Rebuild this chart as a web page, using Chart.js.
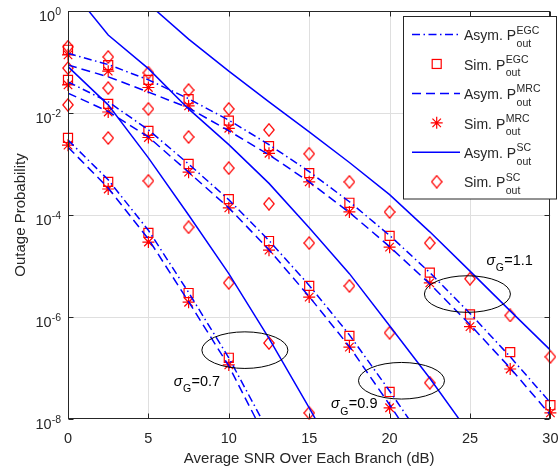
<!DOCTYPE html>
<html>
<head>
<meta charset="utf-8">
<script src="https://cdn.jsdelivr.net/npm/chart.js@4.4.0/dist/chart.umd.min.js"></script>
<style>
  html, body { margin: 0; padding: 0; background: #fff; }
</style>
</head>
<body>
<canvas id="myChart" width="558" height="467"></canvas>
<script>
// SNR axis (dB)
var snr = [0, 2.5, 5, 7.5, 10, 12.5, 15, 17.5, 20, 22.5, 25, 27.5, 30];

// all values are log10(outage probability), one per snr step (null = not drawn)
// sigma_G = 0.7
var asymEGC07 = [-2.53, -3.31, -4.30, -5.52, -6.80, -8.27];
var asymMRC07 = [-2.67, -3.47, -4.47, -5.70, -6.96, -8.50];
var asymSC07 = [-1.09, -1.84, -2.88, -4.00, -5.15, -6.42, -7.78, -9.20];
var simEGC07 = [-2.49, -3.35, -4.35, -5.53, -6.80];
var simMRC07 = [-2.63, -3.49, -4.53, -5.71, -6.94];
var simSC07 = [-1.84, -2.49, -3.33, -4.24, -5.33, -6.51, -7.88];

// sigma_G = 0.9
var asymEGC09 = [-1.39, -1.78, -2.33, -3.00, -3.70, -4.50, -5.38, -6.35, -7.45, -8.60];
var asymMRC09 = [-1.61, -1.97, -2.47, -3.16, -3.86, -4.68, -5.60, -6.58, -7.72, -8.90];
var asymSC09 = [0.50, -0.47, -1.13, -1.92, -2.62, -3.38, -4.25, -5.15, -6.17, -7.20, -8.30];
var simEGC09 = [-1.35, -1.82, -2.35, -3.00, -3.69, -4.51, -5.39, -6.37, -7.47];
var simMRC09 = [-1.45, -1.98, -2.48, -3.16, -3.86, -4.69, -5.61, -6.59, -7.78];
var simSC09 = [-1.12, -1.51, -1.92, -2.47, -3.08, -3.78, -4.55, -5.39, -6.31, -7.29];

// sigma_G = 1.1
var asymEGC11 = [-0.83, -1.05, -1.35, -1.72, -2.14, -2.62, -3.15, -3.74, -4.40, -5.13, -5.93, -6.78, -7.68];
var asymMRC11 = [-1.06, -1.29, -1.59, -1.90, -2.35, -2.82, -3.35, -3.95, -4.62, -5.35, -6.15, -7.00, -7.92];
var asymSC11 = [null, 0.85, 0.14, -0.55, -1.18, -1.78, -2.37, -2.97, -3.60, -4.33, -5.10, -5.88, -6.65];
var simEGC11 = [-0.76, -1.06, -1.35, -1.73, -2.15, -2.65, -3.18, -3.76, -4.41, -5.13, -5.95, -6.69, -7.73];
var simMRC11 = [-0.86, -1.18, -1.50, -1.86, -2.30, -2.79, -3.35, -3.94, -4.63, -5.33, -6.19, -7.02, -7.88];
var simSC11 = [-0.70, -0.90, -1.21, -1.55, -1.92, -2.33, -2.80, -3.35, -3.94, -4.55, -5.25, -5.97, -6.78];

// axis ticks
var xTicks = [0, 5, 10, 15, 20, 25, 30];
var yTickExp = [-8, -6, -4, -2, 0];

// sigma labels + ellipses: [snr, log10 P]
var sigmaLabels = [
  { text: '0.7', at: [6.57, -7.35] },
  { text: '0.9', at: [16.35, -7.79] },
  { text: '1.1', at: [26.02, -4.98] }
];
var ellipses = [[11.0, -6.65], [20.74, -7.25], [24.84, -5.55]];

var legendRows = [
  ['Asym. P', 'EGC', 'dashdot'],
  ['Sim. P', 'EGC', 'square'],
  ['Asym. P', 'MRC', 'dashed'],
  ['Sim. P', 'MRC', 'star'],
  ['Asym. P', 'SC', 'solid'],
  ['Sim. P', 'SC', 'diamond']
];

var BLUE = '#0000ff';
var RED = '#ff0000';
var INK = '#262626';
var FONT = '"Liberation Sans", Arial, Helvetica, sans-serif';
var DASHDOT = [8, 3.5, 1.5, 3.5];
var DASHED = [9, 5];

function pts(vals) {
  var out = [];
  for (var i = 0; i < vals.length; i++) {
    if (vals[i] === null) continue;
    out.push({ x: snr[i], y: Math.pow(10, vals[i]) });
  }
  return out;
}

// diamond marker (a bit taller than wide, like matlab)
var diamond = document.createElement('canvas');
diamond.width = 12;
diamond.height = 14;
(function () {
  var c = diamond.getContext('2d');
  c.strokeStyle = RED;
  c.lineWidth = 1.2;
  c.beginPath();
  c.moveTo(6, 0.8);
  c.lineTo(11.2, 7);
  c.lineTo(6, 13.2);
  c.lineTo(0.8, 7);
  c.closePath();
  c.stroke();
})();

function asymLine(vals, dash) {
  return {
    data: pts(vals), showLine: true, pointRadius: 0, borderColor: BLUE,
    borderWidth: 1.5, borderDash: dash, fill: false, tension: 0
  };
}
function simPts(vals, style) {
  var d = {
    data: pts(vals), showLine: false, pointStyle: style, borderColor: RED,
    backgroundColor: 'rgba(0,0,0,0)', pointBorderWidth: 1.2, clip: false
  };
  d.pointRadius = style === 'rect' ? 6.4 : 6;
  return d;
}

var datasets = [
  asymLine(asymEGC07, DASHDOT), asymLine(asymMRC07, DASHED), asymLine(asymSC07, []),
  asymLine(asymEGC09, DASHDOT), asymLine(asymMRC09, DASHED), asymLine(asymSC09, []),
  asymLine(asymEGC11, DASHDOT), asymLine(asymMRC11, DASHED), asymLine(asymSC11, []),
  simPts(simSC07, diamond), simPts(simSC09, diamond), simPts(simSC11, diamond),
  simPts(simEGC07, 'rect'), simPts(simEGC09, 'rect'), simPts(simEGC11, 'rect'),
  simPts(simMRC07, 'star'), simPts(simMRC09, 'star'), simPts(simMRC11, 'star')
];

function px(chart, xv, lv) {
  return [chart.scales.x.getPixelForValue(xv), chart.scales.y.getPixelForValue(Math.pow(10, lv))];
}

function drawMarker(ctx, kind, x, y) {
  ctx.save();
  ctx.strokeStyle = RED;
  ctx.lineWidth = 1.2;
  ctx.setLineDash([]);
  if (kind === 'square') {
    ctx.strokeRect(x - 4.5, y - 4.5, 9, 9);
  } else if (kind === 'star') {
    ctx.beginPath();
    for (var a = 0; a < 4; a++) {
      var r = a * Math.PI / 4;
      ctx.moveTo(x - 6 * Math.cos(r), y - 6 * Math.sin(r));
      ctx.lineTo(x + 6 * Math.cos(r), y + 6 * Math.sin(r));
    }
    ctx.stroke();
  } else if (kind === 'diamond') {
    ctx.drawImage(diamond, x - 6, y - 7);
  }
  ctx.restore();
}

var matlabAxes = {
  id: 'matlabAxes',
  beforeDatasetsDraw: function (chart) {
    var ctx = chart.ctx, a = chart.chartArea;
    ctx.save();
    ctx.strokeStyle = '#dfdfdf';
    ctx.lineWidth = 1;
    ctx.beginPath();
    xTicks.forEach(function (t) {
      if (t === 0 || t === 30) return;
      var x = Math.round(chart.scales.x.getPixelForValue(t)) + 0.5;
      ctx.moveTo(x, a.top);
      ctx.lineTo(x, a.bottom);
    });
    yTickExp.forEach(function (e) {
      if (e === -8 || e === 0) return;
      var y = Math.round(chart.scales.y.getPixelForValue(Math.pow(10, e))) + 0.5;
      ctx.moveTo(a.left, y);
      ctx.lineTo(a.right, y);
    });
    ctx.stroke();
    ctx.restore();
  },
  afterDraw: function (chart) {
    var ctx = chart.ctx, a = chart.chartArea;
    var L = Math.round(a.left) + 0.5, R = Math.round(a.right) - 0.5;
    var T = Math.round(a.top) + 0.5, B = Math.round(a.bottom) - 0.5;
    ctx.save();

    // box + inward ticks
    ctx.strokeStyle = INK;
    ctx.lineWidth = 1;
    ctx.setLineDash([]);
    ctx.strokeRect(L, T, R - L, B - T);
    ctx.beginPath();
    xTicks.forEach(function (t) {
      var x = Math.round(chart.scales.x.getPixelForValue(t)) + 0.5;
      ctx.moveTo(x, B); ctx.lineTo(x, B - 5);
      ctx.moveTo(x, T); ctx.lineTo(x, T + 5);
    });
    yTickExp.forEach(function (e) {
      var y = Math.round(chart.scales.y.getPixelForValue(Math.pow(10, e))) + 0.5;
      ctx.moveTo(L, y); ctx.lineTo(L + 5, y);
      ctx.moveTo(R, y); ctx.lineTo(R - 5, y);
    });
    ctx.stroke();

    // tick labels
    ctx.fillStyle = INK;
    ctx.textBaseline = 'alphabetic';
    ctx.font = '14.5px ' + FONT;
    ctx.textAlign = 'center';
    xTicks.forEach(function (t) {
      ctx.fillText(String(t), chart.scales.x.getPixelForValue(t), a.bottom + 24);
    });
    ctx.textAlign = 'left';
    yTickExp.forEach(function (e) {
      var y = chart.scales.y.getPixelForValue(Math.pow(10, e));
      ctx.font = '10.5px ' + FONT;
      var sup = String(e);
      var ws = ctx.measureText(sup).width;
      ctx.font = '14.5px ' + FONT;
      var wb = ctx.measureText('10').width;
      var xr = a.left - 7;
      ctx.fillText('10', xr - ws - wb, y + 9.7);
      ctx.font = '10.5px ' + FONT;
      ctx.fillText(sup, xr - ws, y + 3.8);
    });

    // axis titles
    ctx.font = '15px ' + FONT;
    ctx.textAlign = 'center';
    ctx.fillText('Average SNR Over Each Branch (dB)', (a.left + a.right) / 2, a.bottom + 44);
    ctx.save();
    ctx.translate(25, (a.top + a.bottom) / 2);
    ctx.rotate(-Math.PI / 2);
    ctx.fillText('Outage Probability', 0, 0);
    ctx.restore();

    // ellipses
    ctx.strokeStyle = '#000';
    ctx.lineWidth = 1;
    ellipses.forEach(function (c) {
      var p = px(chart, c[0], c[1]);
      ctx.beginPath();
      ctx.ellipse(p[0], p[1], 43, 18.3, 0, 0, 2 * Math.PI);
      ctx.stroke();
    });

    // sigma_G labels
    ctx.fillStyle = '#000';
    ctx.textAlign = 'left';
    sigmaLabels.forEach(function (s) {
      var p = px(chart, s.at[0], s.at[1]);
      var x = p[0];
      ctx.font = 'italic 14.5px ' + FONT;
      ctx.fillText('\u03c3', x, p[1]);
      x += ctx.measureText('\u03c3').width + 0.5;
      ctx.font = '10.5px ' + FONT;
      ctx.fillText('G', x, p[1] + 6.5);
      x += ctx.measureText('G').width + 0.5;
      ctx.font = '14.5px ' + FONT;
      ctx.fillText('=' + s.text, x, p[1]);
    });

    // legend
    var lx = 403.5, ly = 16.5, lw = 153, lh = 182.5;
    ctx.fillStyle = '#fff';
    ctx.fillRect(lx, ly, lw, lh);
    ctx.strokeStyle = INK;
    ctx.strokeRect(lx, ly, lw, lh);
    legendRows.forEach(function (row, i) {
      var cy = 34.5 + i * 29.45;
      var kind = row[2];
      if (kind === 'dashdot' || kind === 'dashed' || kind === 'solid') {
        ctx.save();
        ctx.strokeStyle = BLUE;
        ctx.lineWidth = 1.5;
        ctx.setLineDash(kind === 'dashdot' ? DASHDOT : kind === 'dashed' ? DASHED : []);
        ctx.beginPath();
        ctx.moveTo(412, cy);
        ctx.lineTo(460, cy);
        ctx.stroke();
        ctx.restore();
      } else {
        drawMarker(ctx, kind, 436.7, cy);
      }
      ctx.fillStyle = INK;
      ctx.font = '14px ' + FONT;
      ctx.fillText(row[0], 464, cy + 5.7);
      var x = 464 + ctx.measureText(row[0]).width + 0.5;
      ctx.font = '10.5px ' + FONT;
      ctx.fillText(row[1], x, cy - 1);
      ctx.fillText('out', x, cy + 12.3);
    });

    ctx.restore();
  }
};

var ctx = document.getElementById('myChart');
var myChart = new Chart(ctx, {
  type: 'scatter',
  data: { datasets: datasets },
  options: {
    responsive: false,
    animation: false,
    events: [],
    layout: { padding: { left: 68, right: 6, top: 11, bottom: 48 } },
    plugins: { legend: { display: false }, tooltip: { enabled: false } },
    scales: {
      x: { type: 'linear', min: 0, max: 30, display: false },
      y: { type: 'logarithmic', min: 1e-8, max: 1, display: false }
    }
  },
  plugins: [matlabAxes]
});
</script>
</body>
</html>
